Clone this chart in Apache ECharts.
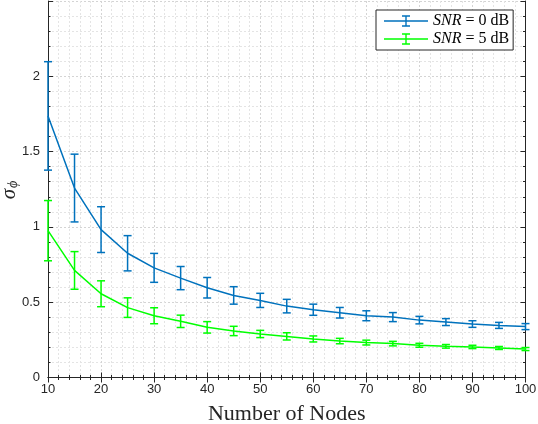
<!DOCTYPE html>
<html>
<head>
<meta charset="utf-8">
<script src="https://cdn.jsdelivr.net/npm/echarts@6/dist/echarts.min.js"></script>
<style>
  html, body { margin: 0; padding: 0; background: #fff; }
  #chart { width: 538px; height: 424px; }
</style>
</head>
<body>
<div id="chart"></div>
<script>
// number of nodes on the x axis
const nodes = [10, 15, 20, 25, 30, 35, 40, 45, 50, 55, 60, 65, 70, 75, 80, 85, 90, 95, 100]
// SNR = 0 dB : mean and half error bar
const snr0Mean = [1.737, 1.258, 0.982, 0.825, 0.728, 0.660, 0.596, 0.545, 0.512, 0.474, 0.450, 0.430, 0.410, 0.401, 0.381, 0.368, 0.355, 0.346, 0.338]
const snr0Err = [0.360, 0.225, 0.152, 0.117, 0.096, 0.077, 0.068, 0.058, 0.047, 0.045, 0.037, 0.035, 0.033, 0.030, 0.025, 0.023, 0.022, 0.020, 0.020]
// SNR = 5 dB
const snr5Mean = [0.975, 0.711, 0.556, 0.464, 0.410, 0.373, 0.333, 0.309, 0.289, 0.273, 0.256, 0.242, 0.232, 0.225, 0.214, 0.207, 0.203, 0.196, 0.189]
const snr5Err = [0.200, 0.125, 0.086, 0.065, 0.053, 0.041, 0.038, 0.031, 0.024, 0.024, 0.020, 0.018, 0.016, 0.015, 0.013, 0.012, 0.011, 0.010, 0.010]
const xTicks = [10, 20, 30, 40, 50, 60, 70, 80, 90, 100]
const yTicks = [0, 0.5, 1, 1.5, 2]

const blue = '#0072BD', green = '#00FF00', axisColor = '#262626'

// points for the line and [x, low, high] for the error bars
const linePts = (mean) => nodes.map((n, i) => [n, mean[i]])
const barPts = (mean, err) => nodes.map((n, i) => [n, mean[i] - err[i], mean[i] + err[i]])

const errorBars = (color) => (params, api) => {
	const x = api.value(0)
	const hi = api.coord([x, api.value(2)])
	const lo = api.coord([x, api.value(1)])
	const w = 4
	const st = { stroke: color, lineWidth: 1.5 }
	return {
		type: 'group',
		children: [
			{ type: 'line', shape: { x1: hi[0], y1: hi[1], x2: lo[0], y2: lo[1] }, style: st },
			{ type: 'line', shape: { x1: hi[0] - w, y1: hi[1], x2: hi[0] + w, y2: hi[1] }, style: st },
			{ type: 'line', shape: { x1: lo[0] - w, y1: lo[1], x2: lo[0] + w, y2: lo[1] }, style: st }
		]
	}
}

// legend icon: line with an error bar in the middle
const legendIcon = 'path://M0,5.3L44,5.3L44,6.7L0,6.7Z M21.3,1L22.7,1L22.7,11L21.3,11Z M18,0.3L26,0.3L26,1.7L18,1.7Z M18,10.3L26,10.3L26,11.7L18,11.7Z'

const axisCommon = {
	type: 'value',
	axisLine: { show: true, lineStyle: { color: axisColor, width: 1 } },
	axisTick: { show: true, inside: true, length: 5, lineStyle: { color: axisColor } },
	minorTick: { show: true, splitNumber: 5, length: 2.5, lineStyle: { color: axisColor } },
	axisLabel: { color: axisColor, fontFamily: 'Liberation Sans', fontSize: 13 }
}

const option = {
	backgroundColor: '#fff',
	animation: false,
	grid: { left: 48, right: 12.5, top: 1, bottom: 46.5, containLabel: false, outerBoundsMode: 'none' },
	// y axis title, rotated
	graphic: [{
		type: 'text', x: 9, y: 190, rotation: Math.PI / 2,
		style: {
			text: '{s|σ}{sub|ϕ}', align: 'center', verticalAlign: 'middle',
			rich: {
				s: { fontFamily: 'Liberation Serif', fontStyle: 'italic', fontSize: 21, fill: axisColor },
				sub: { fontFamily: 'Liberation Serif', fontStyle: 'italic', fontSize: 14, fill: axisColor, padding: [8, 0, 0, 1] }
			}
		}
	}],
	legend: {
		left: 376, top: 10,
		orient: 'vertical',
		backgroundColor: '#fff',
		borderColor: axisColor, borderWidth: 1, borderRadius: 0,
		padding: [3, 4, 3, 8],
		itemGap: 2,
		itemWidth: 44, itemHeight: 12,
		data: [
			{ name: 'SNR0', icon: legendIcon, itemStyle: { color: blue } },
			{ name: 'SNR5', icon: legendIcon, itemStyle: { color: green } }
		],
		formatter: (name) => name === 'SNR0' ? '{i|SNR} = 0 dB' : '{i|SNR} = 5 dB',
		textStyle: {
			fontFamily: 'Liberation Serif', fontSize: 16, color: '#000',
			rich: { i: { fontFamily: 'Liberation Serif', fontStyle: 'italic', fontSize: 16, color: '#000' } }
		}
	},
	xAxis: [
		Object.assign({}, axisCommon, {
			min: 10, max: 100, interval: 10,
			position: 'bottom',
			name: 'Number of Nodes', nameLocation: 'middle', nameGap: 26,
			nameTextStyle: { fontFamily: 'Liberation Serif', fontSize: 22, color: axisColor },
			axisLabel: Object.assign({}, axisCommon.axisLabel, { margin: 5, customValues: xTicks }),
			splitLine: { show: true, lineStyle: { color: '#d4d4d4', type: [2, 2] } },
			minorSplitLine: { show: true, lineStyle: { color: '#e4e4e4', type: [2, 2] } }
		}),
		Object.assign({}, axisCommon, {
			min: 10, max: 100, interval: 10, position: 'top',
			axisLabel: { show: false }, splitLine: { show: false }
		})
	],
	yAxis: [
		Object.assign({}, axisCommon, {
			min: 0, max: 2.5, interval: 0.5,
			position: 'left',
			axisLabel: Object.assign({}, axisCommon.axisLabel, { margin: 8, customValues: yTicks }),
			splitLine: { show: true, lineStyle: { color: '#d4d4d4', type: [2, 2] } },
			minorSplitLine: { show: true, lineStyle: { color: '#e4e4e4', type: [2, 2] } }
		}),
		Object.assign({}, axisCommon, {
			min: 0, max: 2.5, interval: 0.5, position: 'right',
			axisLabel: { show: false }, splitLine: { show: false }
		})
	],
	series: [
		{ name: 'SNR0', type: 'line', data: linePts(snr0Mean), symbol: 'none', itemStyle: { color: blue }, lineStyle: { color: blue, width: 1.5 } },
		{ name: 'SNR0', type: 'custom', data: barPts(snr0Mean, snr0Err), renderItem: errorBars(blue), itemStyle: { color: blue }, encode: { x: 0, y: [1, 2] } },
		{ name: 'SNR5', type: 'line', data: linePts(snr5Mean), symbol: 'none', itemStyle: { color: green }, lineStyle: { color: green, width: 1.5 } },
		{ name: 'SNR5', type: 'custom', data: barPts(snr5Mean, snr5Err), renderItem: errorBars(green), itemStyle: { color: green }, encode: { x: 0, y: [1, 2] } }
	]
}

const myChart = echarts.init(document.getElementById('chart'))
myChart.setOption(option)
</script>
</body>
</html>
